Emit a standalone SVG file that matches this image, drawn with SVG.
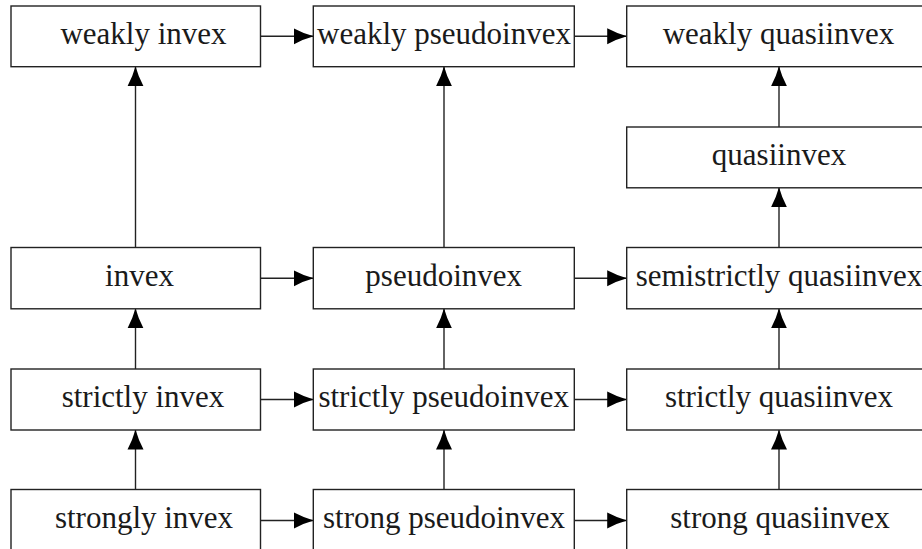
<svg xmlns="http://www.w3.org/2000/svg" width="922" height="549" viewBox="0 0 922 549">
  <style>
    .box { fill: #ffffff; stroke: #222222; stroke-width: 1.4; }
    .lbl { font-family: 'Liberation Serif', 'DejaVu Serif', serif; font-size: 31px; fill: #1a1a1a; text-anchor: middle; }
    .edge { stroke: #222222; stroke-width: 1.4; fill: none; marker-end: url(#arr); }
  </style>
  <defs>
    <marker id="arr" viewBox="0 0 20 17" refX="19.5" refY="8.5" markerWidth="20" markerHeight="17" markerUnits="userSpaceOnUse" orient="auto">
      <path d="M20,8.5 Q10,5.8 0,0.5 L0,16.5 Q10,11.2 20,8.5 Z" fill="#000000"/>
    </marker>
  </defs>
  <rect width="922" height="549" fill="#ffffff"/>

  <g id="edges">
    <line class="edge" x1="260.5" y1="36.3" x2="313.3" y2="36.3"/>
    <line class="edge" x1="574.3" y1="36.3" x2="626.7" y2="36.3"/>
    <line class="edge" x1="260.5" y1="278.3" x2="313.3" y2="278.3"/>
    <line class="edge" x1="574.3" y1="278.3" x2="626.7" y2="278.3"/>
    <line class="edge" x1="260.5" y1="399.5" x2="313.3" y2="399.5"/>
    <line class="edge" x1="574.3" y1="399.5" x2="626.7" y2="399.5"/>
    <line class="edge" x1="260.5" y1="520.5" x2="313.3" y2="520.5"/>
    <line class="edge" x1="574.3" y1="520.5" x2="626.7" y2="520.5"/>
    <line class="edge" x1="135.5" y1="247.5" x2="135.5" y2="66.7"/>
    <line class="edge" x1="135.5" y1="369" x2="135.5" y2="308.8"/>
    <line class="edge" x1="135.5" y1="489.5" x2="135.5" y2="430"/>
    <line class="edge" x1="444" y1="247.5" x2="444" y2="66.7"/>
    <line class="edge" x1="444" y1="369" x2="444" y2="308.8"/>
    <line class="edge" x1="444" y1="489.5" x2="444" y2="430"/>
    <line class="edge" x1="779" y1="127" x2="779" y2="66.7"/>
    <line class="edge" x1="779" y1="247.5" x2="779" y2="187.8"/>
    <line class="edge" x1="779" y1="369" x2="779" y2="308.8"/>
    <line class="edge" x1="779" y1="489.5" x2="779" y2="430"/>
  </g>

  <g id="weakly-invex">
    <rect class="box" x="11" y="6" width="249.5" height="60.7"/>
    <text class="lbl" x="143.5" y="43.5">weakly invex</text>
  </g>
  <g id="weakly-pseudoinvex">
    <rect class="box" x="313.3" y="6" width="261" height="60.7"/>
    <text class="lbl" x="444" y="43.5">weakly pseudoinvex</text>
  </g>
  <g id="weakly-quasiinvex">
    <rect class="box" x="626.7" y="6" width="305" height="60.7"/>
    <text class="lbl" x="778.5" y="43.5">weakly quasiinvex</text>
  </g>
  <g id="quasiinvex">
    <rect class="box" x="626.7" y="127" width="305" height="60.8"/>
    <text class="lbl" x="779" y="164.5">quasiinvex</text>
  </g>
  <g id="invex">
    <rect class="box" x="11" y="247.5" width="249.5" height="61.3"/>
    <text class="lbl" x="139.5" y="285.5">invex</text>
  </g>
  <g id="pseudoinvex">
    <rect class="box" x="313.3" y="247.5" width="261" height="61.3"/>
    <text class="lbl" x="443.7" y="285.5">pseudoinvex</text>
  </g>
  <g id="semistrictly-quasiinvex">
    <rect class="box" x="626.7" y="247.5" width="305" height="61.3"/>
    <text class="lbl" x="779" y="285.5">semistrictly quasiinvex</text>
  </g>
  <g id="strictly-invex">
    <rect class="box" x="11" y="369" width="249.5" height="61"/>
    <text class="lbl" x="143" y="406.5">strictly invex</text>
  </g>
  <g id="strictly-pseudoinvex">
    <rect class="box" x="313.3" y="369" width="261" height="61"/>
    <text class="lbl" x="443.7" y="406.5">strictly pseudoinvex</text>
  </g>
  <g id="strictly-quasiinvex">
    <rect class="box" x="626.7" y="369" width="305" height="61"/>
    <text class="lbl" x="779" y="406.5">strictly quasiinvex</text>
  </g>
  <g id="strongly-invex">
    <rect class="box" x="11" y="489.5" width="249.5" height="61"/>
    <text class="lbl" x="144" y="527.5">strongly invex</text>
  </g>
  <g id="strong-pseudoinvex">
    <rect class="box" x="313.3" y="489.5" width="261" height="61"/>
    <text class="lbl" x="444" y="527.5">strong pseudoinvex</text>
  </g>
  <g id="strong-quasiinvex">
    <rect class="box" x="626.7" y="489.5" width="305" height="61"/>
    <text class="lbl" x="780" y="527.5">strong quasiinvex</text>
  </g>
</svg>
